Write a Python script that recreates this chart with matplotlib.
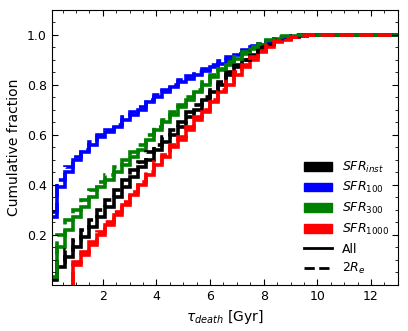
import numpy as np
import matplotlib
matplotlib.use('Agg')
import matplotlib.pyplot as plt
from matplotlib.patches import Patch
from matplotlib.lines import Line2D

# bin edges in Gyr (last bin runs out past the axis)
edges = list(np.round(np.arange(0, 10.5, 0.3), 2)) + [13.5]

# cumulative fractions, whole galaxy ("All")
inst_all = [0.02, 0.07, 0.11, 0.15, 0.19, 0.23, 0.27, 0.31, 0.35, 0.39, 0.43, 0.47,
            0.50, 0.54, 0.57, 0.60, 0.63, 0.67, 0.70, 0.74, 0.77, 0.80, 0.84, 0.87,
            0.90, 0.92, 0.94, 0.96, 0.975, 0.985, 0.99, 0.995, 1.0, 1.0, 1.0]
sfr100_all = [0.27, 0.39, 0.45, 0.50, 0.53, 0.56, 0.59, 0.61, 0.63, 0.66, 0.68, 0.70,
              0.73, 0.75, 0.77, 0.79, 0.81, 0.825, 0.84, 0.855, 0.87, 0.885, 0.90, 0.92,
              0.935, 0.95, 0.96, 0.97, 0.98, 0.985, 0.99, 0.995, 1.0, 1.0, 1.0]
sfr300_all = [0.03, 0.15, 0.22, 0.27, 0.31, 0.35, 0.39, 0.42, 0.45, 0.48, 0.51, 0.54,
              0.58, 0.62, 0.65, 0.68, 0.71, 0.74, 0.77, 0.80, 0.83, 0.86, 0.88, 0.905,
              0.925, 0.945, 0.96, 0.975, 0.985, 0.99, 0.995, 1.0, 1.0, 1.0, 1.0]
sfr1000_all = [0.0, 0.0, 0.0, 0.08, 0.12, 0.16, 0.20, 0.24, 0.28, 0.32, 0.36, 0.40,
               0.44, 0.48, 0.51, 0.55, 0.58, 0.62, 0.66, 0.69, 0.73, 0.77, 0.80, 0.84,
               0.87, 0.90, 0.93, 0.95, 0.97, 0.98, 0.99, 0.995, 0.998, 1.0, 1.0]

# cumulative fractions inside 2 R_e
inst_2re = [0.04, 0.09, 0.14, 0.18, 0.22, 0.26, 0.30, 0.34, 0.38, 0.42, 0.46, 0.49,
            0.53, 0.56, 0.59, 0.62, 0.65, 0.69, 0.72, 0.75, 0.78, 0.81, 0.85, 0.88,
            0.90, 0.93, 0.95, 0.965, 0.98, 0.99, 0.995, 1.0, 1.0, 1.0, 1.0]
sfr100_2re = [0.29, 0.42, 0.47, 0.51, 0.54, 0.57, 0.60, 0.62, 0.64, 0.67, 0.69, 0.71,
              0.74, 0.76, 0.78, 0.80, 0.82, 0.835, 0.85, 0.865, 0.88, 0.895, 0.91, 0.925,
              0.94, 0.955, 0.965, 0.975, 0.985, 0.99, 0.995, 1.0, 1.0, 1.0, 1.0]
sfr300_2re = [0.05, 0.20, 0.26, 0.30, 0.34, 0.38, 0.41, 0.44, 0.47, 0.50, 0.53, 0.56,
              0.60, 0.63, 0.66, 0.69, 0.72, 0.75, 0.78, 0.81, 0.84, 0.865, 0.89, 0.91,
              0.93, 0.95, 0.965, 0.98, 0.99, 0.995, 1.0, 1.0, 1.0, 1.0, 1.0]
sfr1000_2re = [0.0, 0.0, 0.0, 0.09, 0.13, 0.17, 0.21, 0.25, 0.29, 0.33, 0.37, 0.41,
               0.45, 0.49, 0.52, 0.56, 0.59, 0.63, 0.67, 0.70, 0.74, 0.78, 0.81, 0.85,
               0.88, 0.91, 0.935, 0.955, 0.975, 0.985, 0.99, 0.995, 1.0, 1.0, 1.0]

labels = [r'$SFR_{inst}$', r'$SFR_{100}$', r'$SFR_{300}$', r'$SFR_{1000}$']
colors = ['black', 'blue', 'green', 'red']

fig = plt.figure(figsize=(4.08, 3.31), dpi=100)
ax = fig.add_axes([0.127, 0.139, 0.848, 0.831])


def cumstep(vals, c, ls):
    # skip the empty leading bins so nothing is drawn along y=0
    i = next(k for k, v in enumerate(vals) if v > 0)
    ax.stairs(vals[i:], edges[i:], baseline=0, color=c, lw=2.6, ls=ls)


for vals, c in zip([inst_all, sfr100_all, sfr300_all, sfr1000_all], colors):
    cumstep(vals, c, '-')
for vals, c in zip([inst_2re, sfr100_2re, sfr300_2re, sfr1000_2re], colors):
    cumstep(vals, c, '--')

ax.set_xlim(0.1, 13)
ax.set_ylim(0, 1.1)
ax.set_xticks([2, 4, 6, 8, 10, 12])
ax.set_yticks([0.2, 0.4, 0.6, 0.8, 1.0])
ax.set_xticks(np.arange(0.5, 13, 0.5), minor=True)
ax.set_yticks(np.arange(0.05, 1.1, 0.05), minor=True)
ax.tick_params(which='both', direction='in', top=True, right=True, labelsize=9)
ax.tick_params(which='major', length=4)
ax.tick_params(which='minor', length=2)

ax.set_xlabel(r'$\tau_{death}$ [Gyr]', fontsize=10)
ax.set_ylabel('Cumulative fraction', fontsize=10)

handles = [Patch(color=c) for c in colors]
handles += [Line2D([], [], color='black', lw=2), Line2D([], [], color='black', lw=2, ls='--')]
ax.legend(handles, labels + ['All', r'$2R_e$'], loc='lower right', frameon=False,
          fontsize=9, handlelength=2.2, labelspacing=0.45, borderaxespad=0.3)

fig.savefig('out.png', dpi=100)
